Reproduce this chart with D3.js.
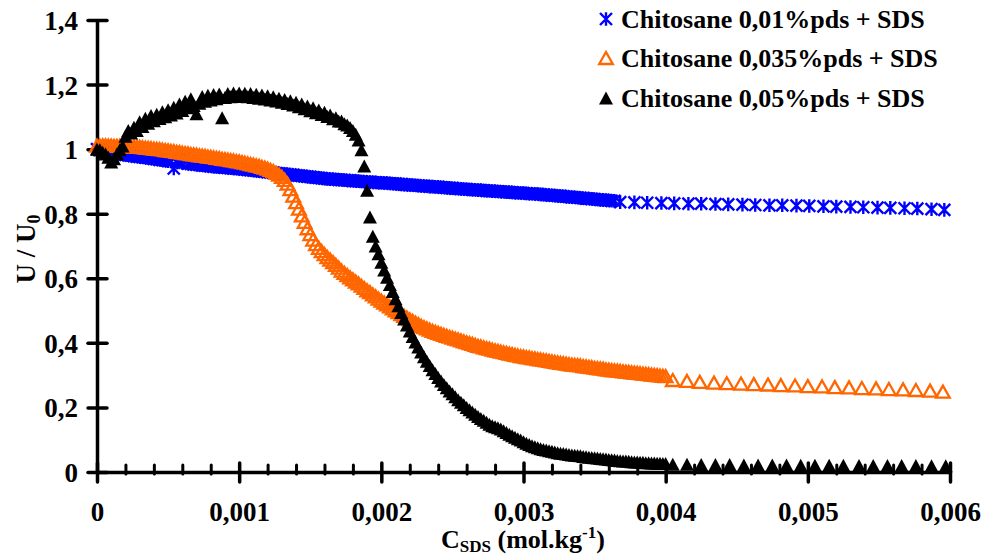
<!DOCTYPE html>
<html><head><meta charset="utf-8">
<script src="https://cdn.jsdelivr.net/npm/d3@7"></script>
<style>
body{margin:0;background:#fff}
svg{display:block}
text{font-family:"Liberation Serif","Times New Roman",serif;font-weight:bold;fill:#000}
</style>
</head><body>
<svg id="c" width="985" height="556"></svg>
<script>
// ---------- DATA ----------
const seriesNames = ["Chitosane 0,01%pds + SDS", "Chitosane 0,035%pds + SDS", "Chitosane 0,05%pds + SDS"];
const xTickVals = [0, 0.001, 0.002, 0.003, 0.004, 0.005, 0.006];
const xTickLabels = ["0", "0,001", "0,002", "0,003", "0,004", "0,005", "0,006"];
const xMinorVals = [0.0002,0.0004,0.0006,0.0008,0.0012,0.0014,0.0016,0.0018,0.0022,0.0024,0.0026,0.0028,0.0032,0.0034,0.0036,0.0038,0.0042,0.0044,0.0046,0.0048,0.0052,0.0054,0.0056,0.0058];
const yTickVals = [0, 0.2, 0.4, 0.6, 0.8, 1, 1.2, 1.4];
const yTickLabels = ["0", "0,2", "0,4", "0,6", "0,8", "1", "1,2", "1,4"];

// dense measurement grid (mol/kg)
const denseX = [
0,0.00002,0.00004,0.00006,0.00008,0.0001,0.00012,0.00014,0.00016,0.00018,
0.0002,0.00022,0.00024,0.00026,0.00028,0.0003,0.00032,0.00034,0.00036,0.00038,
0.0004,0.00042,0.00044,0.00046,0.00048,0.0005,0.00052,0.00054,0.00056,0.00058,
0.0006,0.00062,0.00064,0.00066,0.00068,0.0007,0.00072,0.00074,0.00076,0.00078,
0.0008,0.00082,0.00084,0.00086,0.00088,0.0009,0.00092,0.00094,0.00096,0.00098,
0.001,0.00102,0.00104,0.00106,0.00108,0.0011,0.00112,0.00114,0.00116,0.00118,
0.0012,0.00122,0.00124,0.00126,0.00128,0.0013,0.00132,0.00134,0.00136,0.00138,
0.0014,0.00142,0.00144,0.00146,0.00148,0.0015,0.00152,0.00154,0.00156,0.00158,
0.0016,0.00162,0.00164,0.00166,0.00168,0.0017,0.00172,0.00174,0.00176,0.00178,
0.0018,0.00182,0.00184,0.00186,0.00188,0.0019,0.00192,0.00194,0.00196,0.00198,
0.002,0.00202,0.00204,0.00206,0.00208,0.0021,0.00212,0.00214,0.00216,0.00218,
0.0022,0.00222,0.00224,0.00226,0.00228,0.0023,0.00232,0.00234,0.00236,0.00238,
0.0024,0.00242,0.00244,0.00246,0.00248,0.0025,0.00252,0.00254,0.00256,0.00258,
0.0026,0.00262,0.00264,0.00266,0.00268,0.0027,0.00272,0.00274,0.00276,0.00278,
0.0028,0.00282,0.00284,0.00286,0.00288,0.0029,0.00292,0.00294,0.00296,0.00298,
0.003,0.00302,0.00304,0.00306,0.00308,0.0031,0.00312,0.00314,0.00316,0.00318,
0.0032,0.00322,0.00324,0.00326,0.00328,0.0033,0.00332,0.00334,0.00336,0.00338,
0.0034,0.00342,0.00344,0.00346,0.00348,0.0035,0.00352,0.00354,0.00356,0.00358,
0.0036,0.00362,0.00364,0.00366,0.00368,0.0037,0.00372,0.00374,0.00376,0.00378,
0.0038,0.00382,0.00384,0.00386,0.00388,0.0039,0.00392,0.00394,0.00396,0.00398,
0.004];

// Chitosane 0,01%pds (blue) – dense part, U/U0
const blueDenseY = [
1.000,0.998,0.996,0.994,0.992,0.990,0.988,0.987,0.985,0.984,
0.982,0.981,0.980,0.978,0.977,0.976,0.975,0.974,0.973,0.971,
0.970,0.969,0.967,0.966,0.965,0.963,0.962,0.940,0.960,0.959,
0.957,0.975,0.955,0.954,0.953,0.952,0.951,0.950,0.949,0.948,
0.947,0.946,0.945,0.944,0.944,0.943,0.942,0.941,0.940,0.940,
0.939,0.938,0.937,0.936,0.935,0.934,0.933,0.932,0.931,0.930,
0.929,0.928,0.927,0.926,0.925,0.924,0.923,0.922,0.921,0.920,
0.919,0.918,0.917,0.916,0.915,0.914,0.913,0.912,0.911,0.910,
0.909,0.908,0.907,0.907,0.906,0.905,0.905,0.904,0.903,0.903,
0.902,0.901,0.901,0.900,0.899,0.899,0.898,0.897,0.897,0.896,
0.896,0.895,0.895,0.894,0.893,0.893,0.892,0.891,0.890,0.890,
0.889,0.888,0.888,0.887,0.886,0.886,0.885,0.884,0.884,0.883,
0.883,0.882,0.881,0.880,0.880,0.879,0.878,0.878,0.877,0.876,
0.876,0.875,0.874,0.874,0.873,0.873,0.872,0.871,0.871,0.870,
0.870,0.869,0.868,0.868,0.867,0.867,0.866,0.865,0.865,0.864,
0.864,0.863,0.862,0.862,0.861,0.861,0.860,0.859,0.858,0.858,
0.857,0.856,0.855,0.855,0.854,0.853,0.852,0.851,0.851,0.850,
0.849,0.848,0.847,0.847,0.846,0.845,0.844,0.843,0.843,0.842,
0.841,0.840,0.840];
const blueSparseX = [0.00368,0.00378,0.00387,0.00397,0.00406,0.00416,0.00425,0.00435,0.00444,0.00454,0.00463,0.00473,0.00482,0.00492,0.00501,0.00511,0.0052,0.0053,0.00539,0.00549,0.00558,0.00568,0.00577,0.00587,0.00596];
const blueSparseY = [0.836,0.835,0.834,0.833,0.832,0.831,0.831,0.830,0.829,0.828,0.827,0.826,0.826,0.825,0.824,0.823,0.822,0.821,0.820,0.819,0.818,0.817,0.816,0.814,0.812];

// Chitosane 0,035%pds (orange)
const orangeDenseY = [
1.011,1.011,1.012,1.012,1.011,1.011,1.010,1.010,1.010,1.010,
1.010,1.009,1.009,1.008,1.008,1.007,1.006,1.005,1.004,1.003,
1.002,1.001,1.000,0.999,0.997,0.996,0.995,0.994,0.992,0.991,
0.989,0.988,0.987,0.985,0.984,0.983,0.981,0.980,0.979,0.977,
0.976,0.975,0.973,0.972,0.970,0.969,0.968,0.966,0.965,0.963,
0.962,0.960,0.958,0.956,0.954,0.952,0.950,0.948,0.945,0.943,
0.940,0.936,0.932,0.927,0.921,0.914,0.905,0.893,0.876,0.856,
0.836,0.816,0.795,0.775,0.755,0.737,0.720,0.706,0.694,0.684,
0.675,0.666,0.658,0.650,0.642,0.633,0.624,0.617,0.610,0.603,
0.597,0.590,0.584,0.577,0.570,0.563,0.557,0.550,0.544,0.537,
0.531,0.525,0.519,0.513,0.507,0.501,0.495,0.489,0.484,0.478,
0.473,0.468,0.463,0.458,0.453,0.449,0.445,0.441,0.437,0.434,
0.431,0.428,0.425,0.422,0.419,0.416,0.413,0.411,0.408,0.405,
0.402,0.399,0.397,0.394,0.391,0.389,0.386,0.384,0.382,0.379,
0.377,0.375,0.373,0.371,0.369,0.367,0.365,0.363,0.361,0.359,
0.358,0.356,0.355,0.353,0.352,0.350,0.349,0.347,0.346,0.344,
0.343,0.341,0.340,0.338,0.337,0.336,0.334,0.333,0.332,0.331,
0.330,0.328,0.327,0.326,0.325,0.323,0.322,0.321,0.320,0.318,
0.317,0.316,0.315,0.314,0.313,0.312,0.311,0.310,0.309,0.308,
0.307,0.306,0.305,0.304,0.303,0.302,0.301,0.300,0.299,0.298,
0.297];
const orangeSparseX = [0.00405,0.00415,0.00424,0.00434,0.00443,0.00453,0.00462,0.00472,0.00481,0.00491,0.005,0.0051,0.00519,0.00529,0.00538,0.00548,0.00557,0.00567,0.00576,0.00586,0.00595];
const orangeSparseY = [0.285,0.282,0.279,0.277,0.275,0.274,0.272,0.271,0.269,0.268,0.266,0.265,0.263,0.262,0.260,0.259,0.257,0.256,0.254,0.252,0.249];

// Chitosane 0,05%pds (black)
const blackDenseY = [
1.000,0.998,0.990,0.985,0.975,0.960,0.970,0.985,0.998,1.010,
1.040,1.058,1.050,1.068,1.058,1.085,1.070,1.096,1.080,1.104,
1.088,1.108,1.095,1.116,1.100,1.122,1.106,1.130,1.112,1.140,
1.120,1.148,1.128,1.156,1.135,1.110,1.142,1.163,1.148,1.167,
1.152,1.169,1.156,1.171,1.097,1.160,1.172,1.162,1.174,1.163,
1.174,1.163,1.173,1.162,1.172,1.160,1.170,1.158,1.168,1.155,
1.165,1.152,1.162,1.149,1.158,1.145,1.154,1.141,1.150,1.137,
1.145,1.131,1.140,1.125,1.134,1.119,1.128,1.113,1.121,1.107,
1.114,1.101,1.106,1.094,1.097,1.087,1.087,1.079,1.075,1.067,
1.058,1.046,1.028,0.998,0.948,0.873,0.790,0.730,0.700,0.676,
0.650,0.626,0.603,0.581,0.559,0.537,0.515,0.494,0.474,0.455,
0.437,0.420,0.403,0.387,0.372,0.357,0.343,0.330,0.317,0.305,
0.293,0.282,0.271,0.261,0.251,0.242,0.233,0.224,0.216,0.208,
0.200,0.193,0.186,0.179,0.172,0.166,0.160,0.154,0.148,0.143,
0.140,0.137,0.133,0.128,0.122,0.117,0.112,0.108,0.103,0.099,
0.094,0.089,0.085,0.081,0.078,0.075,0.072,0.070,0.068,0.066,
0.064,0.062,0.060,0.058,0.057,0.056,0.054,0.053,0.052,0.051,
0.050,0.048,0.047,0.046,0.045,0.044,0.043,0.042,0.041,0.040,
0.039,0.038,0.037,0.036,0.035,0.034,0.034,0.033,0.032,0.031,
0.031,0.030,0.030,0.029,0.029,0.028,0.028,0.027,0.027,0.026,
0.026];
const blackSparseX = [0.00405,0.00415,0.00425,0.00435,0.00445,0.00455,0.00465,0.00475,0.00485,0.00495,0.00505,0.00515,0.00525,0.00536,0.00546,0.00556,0.00566,0.00576,0.00587,0.00597];
const blackSparseY = [0.024,0.024,0.023,0.023,0.023,0.022,0.022,0.022,0.022,0.021,0.021,0.021,0.021,0.020,0.020,0.020,0.020,0.020,0.019,0.019];

// ---------- BUILD ----------
const pts = (xs, ys) => ys.map((v, i) => [xs[i], v]);
const blueData = pts(denseX, blueDenseY).concat(pts(blueSparseX, blueSparseY));
const orangeData = pts(denseX, orangeDenseY).concat(pts(orangeSparseX, orangeSparseY));
const blackData = pts(denseX, blackDenseY).concat(pts(blackSparseX, blackSparseY));

const svg = d3.select("#c");
const x = d3.scaleLinear().domain([0, 0.006]).range([97, 950]);
const y = d3.scaleLinear().domain([0, 1.4]).range([472, 20]);
const FS = 27;
const FONT = "'Liberation Serif', 'Times New Roman', serif";

// marker shapes
const asterisk = "M0,-6.8V6.8M-6,-6L6,6M-6,6L6,-6";
const triangle = "M0,-6.5L7,6.5L-7,6.5Z";
const openTri = "M0,-6L6.8,6L-6.8,6Z";

// axes
const gx = svg.append("g").attr("transform", "translate(0,472)")
  .call(d3.axisBottom(x).tickValues(xTickVals).tickFormat((d, i) => xTickLabels[i]).tickSizeOuter(0));
gx.select(".domain").attr("stroke", "#000").attr("stroke-width", 3.5);
gx.selectAll(".tick line").attr("y1", -9).attr("y2", 10).attr("stroke", "#000").attr("stroke-width", 3.5).attr("stroke-linecap", "round");
gx.selectAll(".tick text").attr("y", 30).attr("dy", "0.71em").attr("font-size", FS).attr("fill", "#000")
  .attr("font-family", FONT).attr("font-weight", "bold");

const gxm = svg.append("g").attr("transform", "translate(0,472)")
  .call(d3.axisBottom(x).tickValues(xMinorVals).tickFormat("").tickSizeOuter(0));
gxm.select(".domain").remove();
gxm.selectAll(".tick line").attr("y1", -7).attr("y2", 2).attr("stroke", "#000").attr("stroke-width", 3).attr("stroke-linecap", "round");

const gy = svg.append("g").attr("transform", "translate(97,0)")
  .call(d3.axisLeft(y).tickValues(yTickVals).tickFormat((d, i) => yTickLabels[i]).tickSizeOuter(0));
gy.select(".domain").attr("stroke", "#000").attr("stroke-width", 3.5);
gy.selectAll(".tick line").attr("x1", -9).attr("x2", 10).attr("stroke", "#000").attr("stroke-width", 3.5).attr("stroke-linecap", "round");
gy.selectAll(".tick text").attr("x", -19).attr("dy", "0.35em").attr("font-size", FS).attr("fill", "#000")
  .attr("font-family", FONT).attr("font-weight", "bold");

// series
const plot = svg.append("g");
plot.append("g").selectAll("path").data(blueData).join("path")
  .attr("d", asterisk).attr("transform", d => `translate(${x(d[0])},${y(d[1])})`)
  .attr("fill", "none").attr("stroke", "#0000FF").attr("stroke-width", 2.4);
plot.append("g").selectAll("path").data(orangeData).join("path")
  .attr("d", openTri).attr("transform", d => `translate(${x(d[0])},${y(d[1])})`)
  .attr("fill", "none").attr("stroke", "#FF6600").attr("stroke-width", 2.3);
plot.append("g").selectAll("path").data(blackData).join("path")
  .attr("d", triangle).attr("transform", d => `translate(${x(d[0])},${y(d[1])})`)
  .attr("fill", "#000");

// legend
const leg = svg.append("g");
const legY = [19, 58, 98];
leg.append("path").attr("d", asterisk).attr("transform", `translate(606,${legY[0]})`).attr("fill", "none").attr("stroke", "#0000FF").attr("stroke-width", 2.4);
leg.append("path").attr("d", openTri).attr("transform", `translate(606,${legY[1]})`).attr("fill", "none").attr("stroke", "#FF6600").attr("stroke-width", 2.3);
leg.append("path").attr("d", triangle).attr("transform", `translate(606,${legY[2]})`).attr("fill", "#000");
seriesNames.forEach((n, i) => {
  leg.append("text").attr("x", 621).attr("y", legY[i] + 9).attr("font-size", 26).text(n);
});

// axis titles
const xt = svg.append("text").attr("x", 441).attr("y", 548).attr("font-size", 26);
xt.append("tspan").text("C");
xt.append("tspan").attr("font-size", 17).attr("dy", 4).text("SDS");
xt.append("tspan").attr("dy", -4).text(" (mol.kg");
xt.append("tspan").attr("font-size", 17).attr("dy", -10).text("-1");
xt.append("tspan").attr("dy", 10).text(")");

const yt = svg.append("text").attr("transform", "translate(35,249) rotate(-90)").attr("text-anchor", "middle").attr("font-size", 27);
yt.append("tspan").text("U / U");
yt.append("tspan").attr("font-size", 18).attr("dy", 5).text("0");
</script>
</body></html>
